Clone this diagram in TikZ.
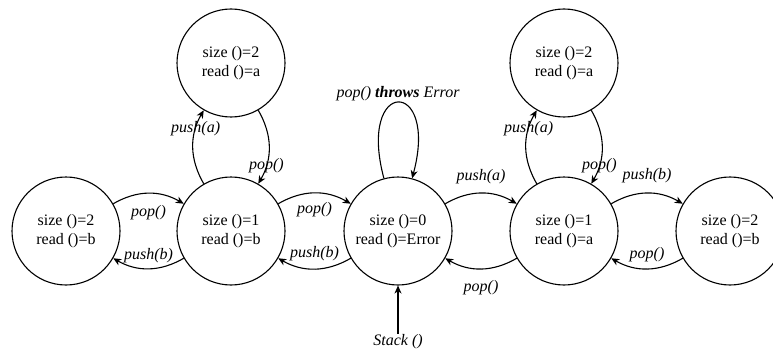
\documentclass[tikz,border=0pt]{standalone}
\usepackage{fontspec}
\setmainfont{Liberation Serif}
\usetikzlibrary{arrows.meta}
\tikzset{
  state/.style={draw,circle,line width=1.1pt,minimum size=108pt,inner sep=0pt,
    align=center,font=\fontsize{16}{19}\selectfont},
  tr/.style={line width=1.1pt,-{Stealth[length=8pt,width=7pt,inset=2.5pt]}},
  lbl/.style={font=\fontsize{16}{19}\selectfont\itshape,inner sep=1pt}
}

\begin{document}
\begin{tikzpicture}[x=1pt,y=-1pt]
    \useasboundingbox (0,0) rectangle (773,350);

    \node[state] (s0) at (398,231) {size ()=0\\read ()=Error};
    \node[state] (b1) at (231,231) {size ()=1\\read ()=b};
    \node[state] (ba) at (231,63) {size ()=2\\read ()=a};
    \node[state] (bb) at (66,231) {size ()=2\\read ()=b};
    \node[state] (a1) at (564,231) {size ()=1\\read ()=a};
    \node[state] (aa) at (564,63) {size ()=2\\read ()=a};
    \node[state] (ab) at (730,231) {size ()=2\\read ()=b};
    \node[lbl] (init) at (398,342) {Stack ()};

    \draw[tr] (init) -- (s0);
    \draw[tr] (s0) to[loop above,looseness=9.5] node[lbl,above=0pt]{pop() \textbf{throws} Error} (s0);

    \draw[tr] (bb) to[bend left=30] node[lbl,below=10pt]{pop()} (b1);
    \draw[tr] (b1) to[bend left=30] node[lbl,above=4pt]{push(b)} (bb);
    \draw[tr] (b1) to[bend left=30] node[lbl,below=8pt]{pop()} (s0);
    \draw[tr] (s0) to[bend left=30] node[lbl,above=6pt]{push(b)} (b1);
    \draw[tr] (b1) to[bend left=30] node[lbl,pos=.75]{push(a)} (ba);
    \draw[tr] (ba) to[bend left=30] node[lbl,pos=.75]{pop()} (b1);

    \draw[tr] (s0) to[bend left=30] node[lbl,above=8pt]{push(a)} (a1);
    \draw[tr] (a1) to[bend left=30] node[lbl,below=10pt]{pop()} (s0);
    \draw[tr] (a1) to[bend left=30] node[lbl,above=9pt]{push(b)} (ab);
    \draw[tr] (ab) to[bend left=30] node[lbl,above=5pt]{pop()} (a1);
    \draw[tr] (a1) to[bend left=30] node[lbl,pos=.75]{push(a)} (aa);
    \draw[tr] (aa) to[bend left=30] node[lbl,pos=.75]{pop()} (a1);
\end{tikzpicture}
\end{document}
